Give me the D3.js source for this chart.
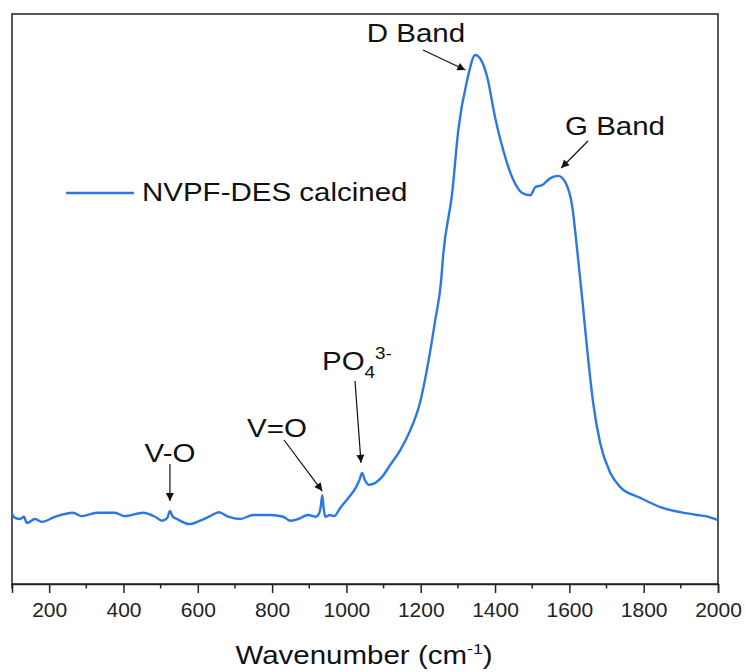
<!DOCTYPE html>
<html>
<head>
<meta charset="utf-8">
<script src="https://cdn.jsdelivr.net/npm/d3@7"></script>
<style>
  html, body { margin: 0; padding: 0; background: #fff; }
  svg { display: block; font-family: "Liberation Sans", Arial, sans-serif; }
</style>
</head>
<body>
<svg id="chart" width="745" height="672"></svg>
<script>
// Wavenumber (cm-1)
const wavenumber = [100,108,122,132,140,162,181,216,264,288,329,377,404,453,485,504,518,525,532,544,579,606,633,657,682,714,749,795,830,848,870,897,918,926,931,935,939,943,956,967,983,1005,1026,1036,1042,1050,1061,1096,1118,1145,1172,1198,1220,1239,1255,1260,1285,1301,1325,1347,1365,1379,1400,1422,1449,1473,1495,1508,1527,1549,1570,1589,1608,1621,1635,1648,1664,1683,1710,1737,1791,1845,1899,1944,1966,2000];
// Raman intensity (a.u.)
const intensity = [12.3,11.6,11.4,11.8,10.7,11.4,10.9,11.8,12.5,11.9,12.5,12.5,11.9,12.5,11.8,11.1,11.6,12.8,11.9,11.4,10.5,11.1,11.9,12.6,11.8,11.4,12.1,12.1,11.8,11.1,11.4,12.1,11.8,12.3,13.6,15.6,13.2,11.8,12.1,11.9,13.3,15.1,17.0,18.4,19.5,18.2,17.4,18.8,20.9,23.5,27.0,31.8,38.8,46.3,53.3,57.4,68.8,79.6,88.4,92.8,91.6,88.9,81.9,76.1,70.9,68.6,68.2,69.6,70.0,71.2,71.6,70.5,66.1,58.6,49.8,41.1,31.8,24.7,19.5,17.0,15.1,13.5,12.6,12.1,11.9,11.2];
const xTicks = [200,400,600,800,1000,1200,1400,1600,1800,2000];
const xMinorTicks = [100,300,500,700,900,1100,1300,1500,1700,1900];
const seriesName = "NVPF-DES calcined";
// annotations: label, peak wavenumber
const peakLabels = ["V-O", "V=O", "PO4 3-", "D Band", "G Band"];
const peakPositions = [525, 935, 1042, 1347, 1570];

const svg = d3.select("#chart");
const L = 12, R = 718, T = 14, B = 584;
const x = d3.scaleLinear().domain([100, 2000]).range([L, R]);
const y = d3.scaleLinear().domain([0, 100]).range([B, T]);
const blue = "#2b78e4";
const FS = 25, SX = 1.18;

svg.append("defs").append("marker")
  .attr("id", "arrow").attr("viewBox", "0 0 10 10")
  .attr("refX", 10).attr("refY", 5)
  .attr("markerWidth", 11).attr("markerHeight", 8)
  .attr("markerUnits", "userSpaceOnUse")
  .attr("orient", "auto")
  .append("path").attr("d", "M0,0 L10,5 L0,10 Z").attr("fill", "#111");

// frame
svg.append("rect").attr("x", L).attr("y", T).attr("width", R - L).attr("height", B - T)
  .attr("fill", "none").attr("stroke", "#222").attr("stroke-width", 1.5);

// x axis
const ax = svg.append("g").attr("transform", `translate(0,${B})`)
  .call(d3.axisBottom(x).tickValues(xTicks).tickSize(9).tickPadding(9).tickFormat(d3.format("d")));
ax.select(".domain").attr("stroke", "#222").attr("stroke-width", 1.5);
ax.selectAll(".tick line").attr("stroke", "#222").attr("stroke-width", 1.5);
ax.selectAll(".tick text").attr("font-size", 21).attr("fill", "#222")
  .attr("font-family", "Liberation Sans, Arial, sans-serif");
svg.append("g").selectAll("line").data(xMinorTicks).join("line")
  .attr("x1", d => x(d)).attr("x2", d => x(d)).attr("y1", B).attr("y2", B + 4.5)
  .attr("stroke", "#222").attr("stroke-width", 1.5);

// line
const data = wavenumber.map((w, i) => ({ w, v: intensity[i] }));
svg.append("path").datum(data)
  .attr("fill", "none").attr("stroke", blue).attr("stroke-width", 2.4)
  .attr("stroke-linejoin", "round")
  .attr("d", d3.line().curve(d3.curveMonotoneX).x(d => x(d.w)).y(d => y(d.v)));

function stretchedText(cx, cy, size, sx, anchor) {
  return svg.append("text")
    .attr("transform", `translate(${cx},${cy}) scale(${sx},1)`)
    .attr("text-anchor", anchor || "middle")
    .attr("font-size", size).attr("fill", "#111");
}

// x label
const xl = stretchedText(364, 664, FS, SX);
xl.append("tspan").text("Wavenumber (cm");
xl.append("tspan").attr("font-size", 15).attr("dy", -10).text("-1");
xl.append("tspan").attr("dy", 10).text(")");

// legend
svg.append("line").attr("x1", 66).attr("x2", 134).attr("y1", 193).attr("y2", 193)
  .attr("stroke", blue).attr("stroke-width", 2.4);
stretchedText(142, 201, FS, SX, "start").text(seriesName);

// annotations
function arrow(x1, y1, x2, y2) {
  svg.append("line").attr("x1", x1).attr("y1", y1).attr("x2", x2).attr("y2", y2)
    .attr("stroke", "#111").attr("stroke-width", 1.2).attr("marker-end", "url(#arrow)");
}
function peakY(w) {
  const i = d3.bisectLeft(wavenumber, w);
  return y(intensity[Math.min(i, intensity.length - 1)]);
}
// V-O
stretchedText(170, 462, FS, SX).text(peakLabels[0]);
arrow(x(peakPositions[0]), 464, x(peakPositions[0]), peakY(peakPositions[0]) - 10);
// V=O
stretchedText(277, 437, FS, SX).text(peakLabels[1]);
arrow(284, 440, x(peakPositions[1]), peakY(peakPositions[1]) - 4);
// PO4 3-
const po = stretchedText(322, 370, FS, SX, "start");
po.append("tspan").text("PO");
po.append("tspan").attr("font-size", 16).attr("dy", 8).text("4");
po.append("tspan").attr("font-size", 16).attr("dy", -19).text("3-");
arrow(355, 381, x(peakPositions[2]) - 1, peakY(peakPositions[2]) - 10);
// D Band
stretchedText(416, 42, FS, SX).text(peakLabels[3]);
arrow(423, 50, x(peakPositions[3]) - 10, 70);
// G Band
stretchedText(615, 135, FS, SX).text(peakLabels[4]);
arrow(588, 141, x(peakPositions[4]) + 3, 168);
</script>
</body>
</html>
